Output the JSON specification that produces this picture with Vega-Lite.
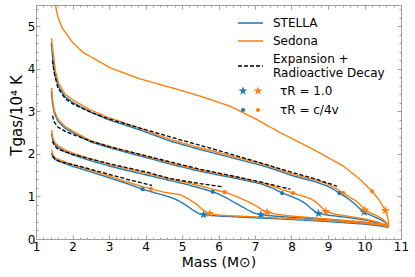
{
  "$schema": "https://vega.github.io/schema/vega-lite/v6.json",
  "width": 365,
  "height": 234,
  "autosize": {"type": "none"},
  "padding": {"left": 36, "top": 5, "right": 14, "bottom": 38},
  "config": {
    "font": "DejaVu Sans",
    "view": {"stroke": "#a0a0a0", "strokeWidth": 1},
    "axis": {"grid": false, "domain": false, "tickColor": "#a0a0a0", "labelColor": "black", "titleColor": "black", "labelFontSize": 12, "titleFontSize": 14, "titleFontWeight": "normal", "labelFont": "DejaVu Sans", "titleFont": "DejaVu Sans"},
    "legend": {"labelFont": "DejaVu Sans", "labelFontSize": 12, "labelColor": "black", "padding": 0}
  },
  "datasets": {
    "lines": [
      {"model":"STELLA","curve":"B","m":1.42,"T":4.6},{"model":"STELLA","curve":"B","m":1.45,"T":4.3},{"model":"STELLA","curve":"B","m":1.48,"T":4.05},{"model":"STELLA","curve":"B","m":1.53,"T":3.82},{"model":"STELLA","curve":"B","m":1.62,"T":3.58},{"model":"STELLA","curve":"B","m":1.8,"T":3.34},{"model":"STELLA","curve":"B","m":2.03,"T":3.2},{"model":"STELLA","curve":"B","m":2.5,"T":2.98},{"model":"STELLA","curve":"B","m":3.0,"T":2.8},{"model":"STELLA","curve":"B","m":3.86,"T":2.56},{"model":"STELLA","curve":"B","m":4.68,"T":2.3},{"model":"STELLA","curve":"B","m":5.5,"T":2.1},{"model":"STELLA","curve":"B","m":6.5,"T":1.88},{"model":"STELLA","curve":"B","m":7.3,"T":1.7},{"model":"STELLA","curve":"B","m":8.06,"T":1.48},{"model":"STELLA","curve":"B","m":8.6,"T":1.36},{"model":"STELLA","curve":"B","m":8.97,"T":1.25},{"model":"STELLA","curve":"B","m":9.15,"T":1.17},{"model":"STELLA","curve":"B","m":9.31,"T":1.08},{"model":"STELLA","curve":"B","m":9.5,"T":0.98},{"model":"STELLA","curve":"B","m":9.7,"T":0.85},{"model":"STELLA","curve":"B","m":9.85,"T":0.73},{"model":"STELLA","curve":"B","m":9.99,"T":0.63},{"model":"STELLA","curve":"B","m":10.2,"T":0.55},{"model":"STELLA","curve":"B","m":10.4,"T":0.47},{"model":"STELLA","curve":"B","m":10.55,"T":0.4},{"model":"STELLA","curve":"B","m":10.66,"T":0.3},
      {"model":"STELLA","curve":"C","m":1.42,"T":3.48},{"model":"STELLA","curve":"C","m":1.45,"T":3.2},{"model":"STELLA","curve":"C","m":1.5,"T":2.96},{"model":"STELLA","curve":"C","m":1.6,"T":2.77},{"model":"STELLA","curve":"C","m":1.8,"T":2.6},{"model":"STELLA","curve":"C","m":2.0,"T":2.5},{"model":"STELLA","curve":"C","m":2.5,"T":2.28},{"model":"STELLA","curve":"C","m":3.0,"T":2.15},{"model":"STELLA","curve":"C","m":3.5,"T":2.03},{"model":"STELLA","curve":"C","m":4.0,"T":1.92},{"model":"STELLA","curve":"C","m":4.68,"T":1.76},{"model":"STELLA","curve":"C","m":5.5,"T":1.59},{"model":"STELLA","curve":"C","m":6.5,"T":1.42},{"model":"STELLA","curve":"C","m":7.15,"T":1.3},{"model":"STELLA","curve":"C","m":7.5,"T":1.19},{"model":"STELLA","curve":"C","m":7.74,"T":1.08},{"model":"STELLA","curve":"C","m":8.0,"T":1.0},{"model":"STELLA","curve":"C","m":8.24,"T":0.91},{"model":"STELLA","curve":"C","m":8.4,"T":0.82},{"model":"STELLA","curve":"C","m":8.52,"T":0.73},{"model":"STELLA","curve":"C","m":8.64,"T":0.65},{"model":"STELLA","curve":"C","m":8.74,"T":0.6},{"model":"STELLA","curve":"C","m":9.0,"T":0.56},{"model":"STELLA","curve":"C","m":9.5,"T":0.51},{"model":"STELLA","curve":"C","m":10.0,"T":0.45},{"model":"STELLA","curve":"C","m":10.4,"T":0.37},{"model":"STELLA","curve":"C","m":10.66,"T":0.29},
      {"model":"STELLA","curve":"D","m":1.42,"T":2.48},{"model":"STELLA","curve":"D","m":1.46,"T":2.33},{"model":"STELLA","curve":"D","m":1.52,"T":2.22},{"model":"STELLA","curve":"D","m":1.62,"T":2.14},{"model":"STELLA","curve":"D","m":1.8,"T":2.05},{"model":"STELLA","curve":"D","m":2.0,"T":1.98},{"model":"STELLA","curve":"D","m":2.5,"T":1.84},{"model":"STELLA","curve":"D","m":3.0,"T":1.72},{"model":"STELLA","curve":"D","m":3.5,"T":1.61},{"model":"STELLA","curve":"D","m":4.0,"T":1.51},{"model":"STELLA","curve":"D","m":4.5,"T":1.41},{"model":"STELLA","curve":"D","m":5.0,"T":1.31},{"model":"STELLA","curve":"D","m":5.4,"T":1.22},{"model":"STELLA","curve":"D","m":5.84,"T":1.11},{"model":"STELLA","curve":"D","m":6.0,"T":1.06},{"model":"STELLA","curve":"D","m":6.23,"T":0.96},{"model":"STELLA","curve":"D","m":6.45,"T":0.85},{"model":"STELLA","curve":"D","m":6.69,"T":0.74},{"model":"STELLA","curve":"D","m":6.85,"T":0.66},{"model":"STELLA","curve":"D","m":6.96,"T":0.61},{"model":"STELLA","curve":"D","m":7.16,"T":0.57},{"model":"STELLA","curve":"D","m":7.5,"T":0.54},{"model":"STELLA","curve":"D","m":8.0,"T":0.51},{"model":"STELLA","curve":"D","m":9.0,"T":0.45},{"model":"STELLA","curve":"D","m":10.0,"T":0.38},{"model":"STELLA","curve":"D","m":10.5,"T":0.33},{"model":"STELLA","curve":"D","m":10.66,"T":0.28},
      {"model":"STELLA","curve":"E","m":1.42,"T":2.02},{"model":"STELLA","curve":"E","m":1.46,"T":1.93},{"model":"STELLA","curve":"E","m":1.52,"T":1.87},{"model":"STELLA","curve":"E","m":1.62,"T":1.83},{"model":"STELLA","curve":"E","m":1.8,"T":1.77},{"model":"STELLA","curve":"E","m":2.0,"T":1.71},{"model":"STELLA","curve":"E","m":2.5,"T":1.58},{"model":"STELLA","curve":"E","m":3.0,"T":1.44},{"model":"STELLA","curve":"E","m":3.5,"T":1.3},{"model":"STELLA","curve":"E","m":3.92,"T":1.17},{"model":"STELLA","curve":"E","m":4.2,"T":1.1},{"model":"STELLA","curve":"E","m":4.5,"T":1.03},{"model":"STELLA","curve":"E","m":4.75,"T":0.96},{"model":"STELLA","curve":"E","m":4.95,"T":0.88},{"model":"STELLA","curve":"E","m":5.15,"T":0.77},{"model":"STELLA","curve":"E","m":5.3,"T":0.68},{"model":"STELLA","curve":"E","m":5.45,"T":0.6},{"model":"STELLA","curve":"E","m":5.59,"T":0.57},{"model":"STELLA","curve":"E","m":6.0,"T":0.54},{"model":"STELLA","curve":"E","m":7.0,"T":0.5},{"model":"STELLA","curve":"E","m":8.0,"T":0.46},{"model":"STELLA","curve":"E","m":9.0,"T":0.41},{"model":"STELLA","curve":"E","m":10.0,"T":0.35},{"model":"STELLA","curve":"E","m":10.4,"T":0.31},{"model":"STELLA","curve":"E","m":10.66,"T":0.27},
      {"model":"Sedona","curve":"A","m":1.46,"T":6.2},{"model":"Sedona","curve":"A","m":1.5,"T":5.75},{"model":"Sedona","curve":"A","m":1.53,"T":5.5},{"model":"Sedona","curve":"A","m":1.6,"T":5.22},{"model":"Sedona","curve":"A","m":1.71,"T":4.97},{"model":"Sedona","curve":"A","m":2.0,"T":4.62},{"model":"Sedona","curve":"A","m":2.3,"T":4.38},{"model":"Sedona","curve":"A","m":3.04,"T":4.02},{"model":"Sedona","curve":"A","m":3.86,"T":3.76},{"model":"Sedona","curve":"A","m":4.95,"T":3.5},{"model":"Sedona","curve":"A","m":5.6,"T":3.33},{"model":"Sedona","curve":"A","m":6.32,"T":3.12},{"model":"Sedona","curve":"A","m":7.0,"T":2.83},{"model":"Sedona","curve":"A","m":7.69,"T":2.5},{"model":"Sedona","curve":"A","m":8.61,"T":2.1},{"model":"Sedona","curve":"A","m":9.43,"T":1.71},{"model":"Sedona","curve":"A","m":9.88,"T":1.4},{"model":"Sedona","curve":"A","m":10.21,"T":1.12},{"model":"Sedona","curve":"A","m":10.4,"T":0.92},{"model":"Sedona","curve":"A","m":10.57,"T":0.67},{"model":"Sedona","curve":"A","m":10.64,"T":0.5},{"model":"Sedona","curve":"A","m":10.67,"T":0.32},
      {"model":"Sedona","curve":"B","m":1.43,"T":4.72},{"model":"Sedona","curve":"B","m":1.45,"T":4.5},{"model":"Sedona","curve":"B","m":1.48,"T":4.33},{"model":"Sedona","curve":"B","m":1.53,"T":3.95},{"model":"Sedona","curve":"B","m":1.62,"T":3.66},{"model":"Sedona","curve":"B","m":1.8,"T":3.4},{"model":"Sedona","curve":"B","m":2.03,"T":3.26},{"model":"Sedona","curve":"B","m":2.5,"T":3.03},{"model":"Sedona","curve":"B","m":3.0,"T":2.85},{"model":"Sedona","curve":"B","m":3.86,"T":2.6},{"model":"Sedona","curve":"B","m":4.68,"T":2.34},{"model":"Sedona","curve":"B","m":5.5,"T":2.14},{"model":"Sedona","curve":"B","m":6.5,"T":1.92},{"model":"Sedona","curve":"B","m":7.3,"T":1.74},{"model":"Sedona","curve":"B","m":8.06,"T":1.52},{"model":"Sedona","curve":"B","m":8.6,"T":1.4},{"model":"Sedona","curve":"B","m":8.97,"T":1.3},{"model":"Sedona","curve":"B","m":9.2,"T":1.2},{"model":"Sedona","curve":"B","m":9.42,"T":1.08},{"model":"Sedona","curve":"B","m":9.6,"T":0.98},{"model":"Sedona","curve":"B","m":9.79,"T":0.88},{"model":"Sedona","curve":"B","m":9.92,"T":0.77},{"model":"Sedona","curve":"B","m":10.01,"T":0.68},{"model":"Sedona","curve":"B","m":10.2,"T":0.6},{"model":"Sedona","curve":"B","m":10.4,"T":0.52},{"model":"Sedona","curve":"B","m":10.55,"T":0.43},{"model":"Sedona","curve":"B","m":10.66,"T":0.32},
      {"model":"Sedona","curve":"C","m":1.43,"T":3.55},{"model":"Sedona","curve":"C","m":1.45,"T":3.3},{"model":"Sedona","curve":"C","m":1.5,"T":3.02},{"model":"Sedona","curve":"C","m":1.6,"T":2.82},{"model":"Sedona","curve":"C","m":1.8,"T":2.64},{"model":"Sedona","curve":"C","m":2.0,"T":2.54},{"model":"Sedona","curve":"C","m":2.5,"T":2.31},{"model":"Sedona","curve":"C","m":3.0,"T":2.18},{"model":"Sedona","curve":"C","m":3.5,"T":2.06},{"model":"Sedona","curve":"C","m":4.0,"T":1.95},{"model":"Sedona","curve":"C","m":4.68,"T":1.79},{"model":"Sedona","curve":"C","m":5.5,"T":1.62},{"model":"Sedona","curve":"C","m":6.5,"T":1.45},{"model":"Sedona","curve":"C","m":7.15,"T":1.33},{"model":"Sedona","curve":"C","m":7.5,"T":1.24},{"model":"Sedona","curve":"C","m":7.74,"T":1.16},{"model":"Sedona","curve":"C","m":8.04,"T":1.08},{"model":"Sedona","curve":"C","m":8.3,"T":1.01},{"model":"Sedona","curve":"C","m":8.52,"T":0.95},{"model":"Sedona","curve":"C","m":8.65,"T":0.88},{"model":"Sedona","curve":"C","m":8.79,"T":0.77},{"model":"Sedona","curve":"C","m":8.94,"T":0.65},{"model":"Sedona","curve":"C","m":9.2,"T":0.58},{"model":"Sedona","curve":"C","m":9.6,"T":0.53},{"model":"Sedona","curve":"C","m":10.0,"T":0.47},{"model":"Sedona","curve":"C","m":10.4,"T":0.39},{"model":"Sedona","curve":"C","m":10.66,"T":0.3},
      {"model":"Sedona","curve":"D","m":1.43,"T":2.56},{"model":"Sedona","curve":"D","m":1.46,"T":2.38},{"model":"Sedona","curve":"D","m":1.52,"T":2.26},{"model":"Sedona","curve":"D","m":1.62,"T":2.18},{"model":"Sedona","curve":"D","m":1.8,"T":2.09},{"model":"Sedona","curve":"D","m":2.0,"T":2.02},{"model":"Sedona","curve":"D","m":2.5,"T":1.88},{"model":"Sedona","curve":"D","m":3.0,"T":1.76},{"model":"Sedona","curve":"D","m":3.5,"T":1.65},{"model":"Sedona","curve":"D","m":4.0,"T":1.55},{"model":"Sedona","curve":"D","m":4.5,"T":1.45},{"model":"Sedona","curve":"D","m":5.0,"T":1.35},{"model":"Sedona","curve":"D","m":5.4,"T":1.27},{"model":"Sedona","curve":"D","m":5.84,"T":1.17},{"model":"Sedona","curve":"D","m":6.17,"T":1.1},{"model":"Sedona","curve":"D","m":6.4,"T":1.03},{"model":"Sedona","curve":"D","m":6.6,"T":0.96},{"model":"Sedona","curve":"D","m":6.85,"T":0.86},{"model":"Sedona","curve":"D","m":7.05,"T":0.77},{"model":"Sedona","curve":"D","m":7.2,"T":0.68},{"model":"Sedona","curve":"D","m":7.33,"T":0.63},{"model":"Sedona","curve":"D","m":7.6,"T":0.58},{"model":"Sedona","curve":"D","m":8.0,"T":0.54},{"model":"Sedona","curve":"D","m":9.0,"T":0.47},{"model":"Sedona","curve":"D","m":10.0,"T":0.4},{"model":"Sedona","curve":"D","m":10.5,"T":0.34},{"model":"Sedona","curve":"D","m":10.66,"T":0.29},
      {"model":"Sedona","curve":"E","m":1.43,"T":2.1},{"model":"Sedona","curve":"E","m":1.46,"T":1.98},{"model":"Sedona","curve":"E","m":1.52,"T":1.91},{"model":"Sedona","curve":"E","m":1.62,"T":1.87},{"model":"Sedona","curve":"E","m":1.8,"T":1.81},{"model":"Sedona","curve":"E","m":2.0,"T":1.75},{"model":"Sedona","curve":"E","m":2.5,"T":1.62},{"model":"Sedona","curve":"E","m":3.0,"T":1.48},{"model":"Sedona","curve":"E","m":3.5,"T":1.34},{"model":"Sedona","curve":"E","m":3.92,"T":1.23},{"model":"Sedona","curve":"E","m":4.15,"T":1.18},{"model":"Sedona","curve":"E","m":4.5,"T":1.1},{"model":"Sedona","curve":"E","m":4.95,"T":1.04},{"model":"Sedona","curve":"E","m":5.2,"T":0.93},{"model":"Sedona","curve":"E","m":5.41,"T":0.81},{"model":"Sedona","curve":"E","m":5.55,"T":0.7},{"model":"Sedona","curve":"E","m":5.64,"T":0.65},{"model":"Sedona","curve":"E","m":5.76,"T":0.6},{"model":"Sedona","curve":"E","m":6.0,"T":0.56},{"model":"Sedona","curve":"E","m":7.0,"T":0.52},{"model":"Sedona","curve":"E","m":8.0,"T":0.48},{"model":"Sedona","curve":"E","m":9.0,"T":0.43},{"model":"Sedona","curve":"E","m":10.0,"T":0.37},{"model":"Sedona","curve":"E","m":10.4,"T":0.33},{"model":"Sedona","curve":"E","m":10.66,"T":0.28},
      {"model":"Expansion + Radioactive Decay","curve":"B","m":1.45,"T":4.2},{"model":"Expansion + Radioactive Decay","curve":"B","m":1.5,"T":3.9},{"model":"Expansion + Radioactive Decay","curve":"B","m":1.6,"T":3.55},{"model":"Expansion + Radioactive Decay","curve":"B","m":1.8,"T":3.3},{"model":"Expansion + Radioactive Decay","curve":"B","m":2.0,"T":3.18},{"model":"Expansion + Radioactive Decay","curve":"B","m":2.5,"T":2.98},{"model":"Expansion + Radioactive Decay","curve":"B","m":3.0,"T":2.82},{"model":"Expansion + Radioactive Decay","curve":"B","m":4.0,"T":2.57},{"model":"Expansion + Radioactive Decay","curve":"B","m":5.0,"T":2.32},{"model":"Expansion + Radioactive Decay","curve":"B","m":6.0,"T":2.08},{"model":"Expansion + Radioactive Decay","curve":"B","m":7.15,"T":1.79},{"model":"Expansion + Radioactive Decay","curve":"B","m":8.0,"T":1.57},{"model":"Expansion + Radioactive Decay","curve":"B","m":8.7,"T":1.4},{"model":"Expansion + Radioactive Decay","curve":"B","m":9.25,"T":1.24},
      {"model":"Expansion + Radioactive Decay","curve":"C","m":1.45,"T":2.9},{"model":"Expansion + Radioactive Decay","curve":"C","m":1.5,"T":2.75},{"model":"Expansion + Radioactive Decay","curve":"C","m":1.6,"T":2.63},{"model":"Expansion + Radioactive Decay","curve":"C","m":1.8,"T":2.53},{"model":"Expansion + Radioactive Decay","curve":"C","m":2.0,"T":2.46},{"model":"Expansion + Radioactive Decay","curve":"C","m":2.5,"T":2.3},{"model":"Expansion + Radioactive Decay","curve":"C","m":3.0,"T":2.17},{"model":"Expansion + Radioactive Decay","curve":"C","m":4.0,"T":1.96},{"model":"Expansion + Radioactive Decay","curve":"C","m":4.68,"T":1.81},{"model":"Expansion + Radioactive Decay","curve":"C","m":5.5,"T":1.64},{"model":"Expansion + Radioactive Decay","curve":"C","m":6.5,"T":1.46},{"model":"Expansion + Radioactive Decay","curve":"C","m":7.15,"T":1.34},{"model":"Expansion + Radioactive Decay","curve":"C","m":7.97,"T":1.17},
      {"model":"Expansion + Radioactive Decay","curve":"D","m":1.45,"T":2.3},{"model":"Expansion + Radioactive Decay","curve":"D","m":1.5,"T":2.2},{"model":"Expansion + Radioactive Decay","curve":"D","m":1.6,"T":2.11},{"model":"Expansion + Radioactive Decay","curve":"D","m":1.8,"T":2.05},{"model":"Expansion + Radioactive Decay","curve":"D","m":2.0,"T":1.99},{"model":"Expansion + Radioactive Decay","curve":"D","m":2.5,"T":1.88},{"model":"Expansion + Radioactive Decay","curve":"D","m":3.0,"T":1.77},{"model":"Expansion + Radioactive Decay","curve":"D","m":4.0,"T":1.58},{"model":"Expansion + Radioactive Decay","curve":"D","m":4.68,"T":1.42},{"model":"Expansion + Radioactive Decay","curve":"D","m":5.5,"T":1.3},{"model":"Expansion + Radioactive Decay","curve":"D","m":6.1,"T":1.23},
      {"model":"Expansion + Radioactive Decay","curve":"E","m":1.45,"T":1.95},{"model":"Expansion + Radioactive Decay","curve":"E","m":1.55,"T":1.86},{"model":"Expansion + Radioactive Decay","curve":"E","m":1.7,"T":1.81},{"model":"Expansion + Radioactive Decay","curve":"E","m":2.0,"T":1.75},{"model":"Expansion + Radioactive Decay","curve":"E","m":2.49,"T":1.64},{"model":"Expansion + Radioactive Decay","curve":"E","m":3.0,"T":1.52},{"model":"Expansion + Radioactive Decay","curve":"E","m":3.6,"T":1.38},{"model":"Expansion + Radioactive Decay","curve":"E","m":4.18,"T":1.26}
    ],
    "markers": [
      {"model":"STELLA","tau":"τR = 1.0","m":9.99,"T":0.63},{"model":"STELLA","tau":"τR = 1.0","m":8.74,"T":0.6},{"model":"STELLA","tau":"τR = 1.0","m":7.16,"T":0.57},{"model":"STELLA","tau":"τR = 1.0","m":5.59,"T":0.57},
      {"model":"STELLA","tau":"τR = c/4v","m":9.31,"T":1.08},{"model":"STELLA","tau":"τR = c/4v","m":7.74,"T":1.08},{"model":"STELLA","tau":"τR = c/4v","m":5.84,"T":1.11},{"model":"STELLA","tau":"τR = c/4v","m":3.92,"T":1.17},
      {"model":"Sedona","tau":"τR = 1.0","m":10.57,"T":0.67},{"model":"Sedona","tau":"τR = 1.0","m":10.01,"T":0.68},{"model":"Sedona","tau":"τR = 1.0","m":8.94,"T":0.65},{"model":"Sedona","tau":"τR = 1.0","m":7.33,"T":0.63},{"model":"Sedona","tau":"τR = 1.0","m":5.76,"T":0.6},
      {"model":"Sedona","tau":"τR = c/4v","m":10.21,"T":1.12},{"model":"Sedona","tau":"τR = c/4v","m":9.42,"T":1.08},{"model":"Sedona","tau":"τR = c/4v","m":8.04,"T":1.08},{"model":"Sedona","tau":"τR = c/4v","m":6.17,"T":1.1},{"model":"Sedona","tau":"τR = c/4v","m":4.15,"T":1.18}
    ]
  },
  "layer": [
    {
      "data": {"name": "lines"},
      "transform": [{"filter": "datum.model == 'STELLA'"}],
      "mark": {"type": "line", "strokeWidth": 1.4, "clip": true},
      "encoding": {
        "x": {"field": "m", "type": "quantitative", "scale": {"domain": [1, 11], "nice": false, "zero": false},
          "axis": {"orient": "bottom", "title": "Mass (M⊙)", "values": [1,1.2,1.4,1.6,1.8,2,2.2,2.4,2.6,2.8,3,3.2,3.4,3.6,3.8,4,4.2,4.4,4.6,4.8,5,5.2,5.4,5.6,5.8,6,6.2,6.4,6.6,6.8,7,7.2,7.4,7.6,7.8,8,8.2,8.4,8.6,8.8,9,9.2,9.4,9.6,9.8,10,10.2,10.4,10.6,10.8,11],
            "labelExpr": "abs(datum.value - round(datum.value)) < 0.001 ? format(datum.value, 'd') : ''",
            "tickSize": {"condition": {"test": "abs(datum.value - round(datum.value)) < 0.001", "value": -4}, "value": -2},
            "labelPadding": 6, "labelOverlap": false, "labelFlush": false, "titlePadding": 1}},
        "y": {"field": "T", "type": "quantitative", "scale": {"domain": [0, 5.5], "nice": false, "zero": false},
          "axis": {"orient": "left", "title": "Tgas/10⁴ K", "titleY": 110, "titleFontSize": 15, "values": [0,0.2,0.4,0.6,0.8,1,1.2,1.4,1.6,1.8,2,2.2,2.4,2.6,2.8,3,3.2,3.4,3.6,3.8,4,4.2,4.4,4.6,4.8,5,5.2,5.4],
            "labelExpr": "abs(datum.value - round(datum.value)) < 0.001 ? format(datum.value, 'd') : ''",
            "tickSize": {"condition": {"test": "abs(datum.value - round(datum.value)) < 0.001", "value": -4}, "value": -2},
            "labelPadding": 5, "labelOverlap": false, "labelFlush": false, "titlePadding": 3}},
        "detail": {"field": "curve"},
        "color": {"field": "model", "type": "nominal", "scale": {"domain": ["STELLA", "Sedona", "Expansion + Radioactive Decay"], "range": ["#1f77b4", "#ff7f0e", "black"]},
          "legend": {"title": null, "orient": "none", "legendX": 208.5, "legendY": 12, "symbolType": "M-2.5,0L2.5,0", "symbolSize": 100, "symbolStrokeWidth": 1.4, "labelOffset": 16.5, "rowPadding": 6,
            "labelExpr": "datum.label == 'Expansion + Radioactive Decay' ? ['Expansion +', 'Radioactive Decay'] : datum.label",
            "encode": {"labels": {"update": {"dy": {"signal": "datum.value == 'Expansion + Radioactive Decay' ? -7 : 0"}}}}}},
        "strokeDash": {"field": "model", "type": "nominal", "scale": {"domain": ["STELLA", "Sedona", "Expansion + Radioactive Decay"], "range": [[1, 0], [1, 0], [4, 2]]},
          "legend": {"title": null, "orient": "none", "legendX": 208.5, "legendY": 12, "symbolType": "M-2.5,0L2.5,0", "symbolSize": 100, "symbolStrokeWidth": 1.4, "labelOffset": 16.5, "rowPadding": 6,
            "labelExpr": "datum.label == 'Expansion + Radioactive Decay' ? ['Expansion +', 'Radioactive Decay'] : datum.label",
            "encode": {"labels": {"update": {"dy": {"signal": "datum.value == 'Expansion + Radioactive Decay' ? -7 : 0"}}}}}}
      }
    },
    {
      "data": {"name": "lines"},
      "transform": [{"filter": "datum.model == 'Sedona'"}],
      "mark": {"type": "line", "strokeWidth": 1.4, "clip": true},
      "encoding": {
        "x": {"field": "m", "type": "quantitative", "axis": null},
        "y": {"field": "T", "type": "quantitative", "axis": null},
        "detail": {"field": "curve"},
        "color": {"field": "model", "type": "nominal"},
        "strokeDash": {"field": "model", "type": "nominal"}
      }
    },
    {
      "data": {"name": "lines"},
      "transform": [{"filter": "datum.model == 'Expansion + Radioactive Decay'"}],
      "mark": {"type": "line", "strokeWidth": 1.3, "clip": true},
      "encoding": {
        "x": {"field": "m", "type": "quantitative",
          "axis": {"orient": "top", "title": null, "labels": false, "values": [1,1.2,1.4,1.6,1.8,2,2.2,2.4,2.6,2.8,3,3.2,3.4,3.6,3.8,4,4.2,4.4,4.6,4.8,5,5.2,5.4,5.6,5.8,6,6.2,6.4,6.6,6.8,7,7.2,7.4,7.6,7.8,8,8.2,8.4,8.6,8.8,9,9.2,9.4,9.6,9.8,10,10.2,10.4,10.6,10.8,11],
            "tickSize": {"condition": {"test": "abs(datum.value - round(datum.value)) < 0.001", "value": -4}, "value": -2}}},
        "y": {"field": "T", "type": "quantitative",
          "axis": {"orient": "right", "title": null, "labels": false, "values": [0,0.2,0.4,0.6,0.8,1,1.2,1.4,1.6,1.8,2,2.2,2.4,2.6,2.8,3,3.2,3.4,3.6,3.8,4,4.2,4.4,4.6,4.8,5,5.2,5.4],
            "tickSize": {"condition": {"test": "abs(datum.value - round(datum.value)) < 0.001", "value": -4}, "value": -2}}},
        "detail": {"field": "curve"},
        "color": {"field": "model", "type": "nominal"},
        "strokeDash": {"field": "model", "type": "nominal"}
      }
    },
    {
      "data": {"name": "markers"},
      "transform": [{"filter": "datum.model == 'STELLA'"}],
      "mark": {"type": "point", "filled": true, "color": "#1f77b4", "opacity": 1},
      "encoding": {
        "x": {"field": "m", "type": "quantitative", "axis": null},
        "y": {"field": "T", "type": "quantitative", "axis": null},
        "shape": {"field": "tau", "type": "nominal", "scale": {"domain": ["τR = 1.0", "τR = c/4v"], "range": ["M0,-1L0.225,-0.309L0.951,-0.309L0.363,0.118L0.588,0.809L0,0.382L-0.588,0.809L-0.363,0.118L-0.951,-0.309L-0.225,-0.309Z", "circle"]},
          "legend": {"title": null, "orient": "none", "legendX": 201, "legendY": 80, "labelExpr": "''", "rowPadding": 6}},
        "size": {"field": "tau", "type": "nominal", "scale": {"domain": ["τR = 1.0", "τR = c/4v"], "range": [90, 18]},
          "legend": {"title": null, "orient": "none", "legendX": 201, "legendY": 80, "labelExpr": "''", "rowPadding": 6}}
      }
    },
    {
      "data": {"name": "markers"},
      "transform": [{"filter": "datum.model == 'Sedona'"}],
      "mark": {"type": "point", "filled": true, "color": "#ff7f0e", "opacity": 1},
      "encoding": {
        "x": {"field": "m", "type": "quantitative", "axis": null},
        "y": {"field": "T", "type": "quantitative", "axis": null},
        "shape": {"field": "tau", "type": "nominal", "scale": {"domain": ["τR = 1.0", "τR = c/4v"], "range": ["M0,-1L0.225,-0.309L0.951,-0.309L0.363,0.118L0.588,0.809L0,0.382L-0.588,0.809L-0.363,0.118L-0.951,-0.309L-0.225,-0.309Z", "circle"]},
          "legend": {"title": null, "orient": "none", "legendX": 216, "legendY": 80, "labelOffset": 16, "rowPadding": 6}},
        "size": {"field": "tau", "type": "nominal", "scale": {"domain": ["τR = 1.0", "τR = c/4v"], "range": [90, 18]},
          "legend": {"title": null, "orient": "none", "legendX": 216, "legendY": 80, "labelOffset": 16, "rowPadding": 6}}
      }
    }
  ],
  "resolve": {"axis": {"x": "independent", "y": "independent"}, "scale": {"shape": "independent", "size": "independent"}}
}
